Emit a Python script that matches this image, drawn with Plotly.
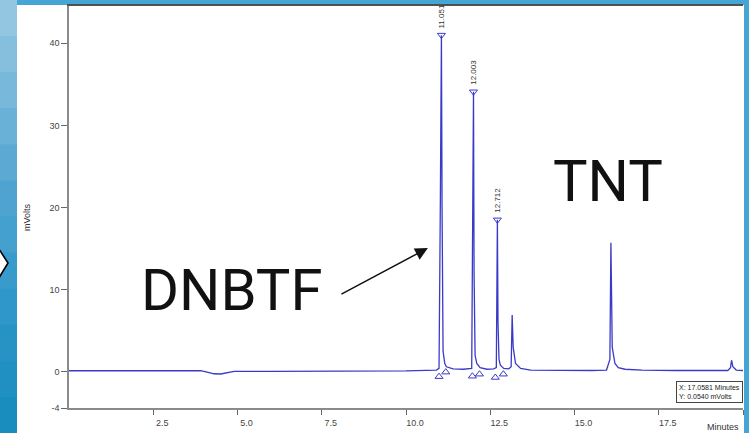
import plotly.graph_objects as go

# ---- data ----
time_min = [0.0, 1.0, 2.0, 3.0, 3.9, 4.1, 4.3, 4.5, 4.7, 4.9, 6.0, 8.0, 10.0,
            10.9, 10.98, 11.02, 11.051, 11.07, 11.10, 11.15, 11.2, 11.4, 11.7,
            11.95, 11.98, 12.003, 12.02, 12.05, 12.1, 12.2, 12.4, 12.6,
            12.68, 12.70, 12.712, 12.73, 12.76, 12.8, 12.9, 13.05,
            13.12, 13.15, 13.18, 13.25, 13.4, 13.7, 14.5, 15.5,
            15.95, 16.05, 16.08, 16.12, 16.2, 16.3, 16.5, 17.0, 18.0, 19.0,
            19.55, 19.63, 19.66, 19.7, 19.8, 20.0]
signal_mv = [0.12, 0.12, 0.12, 0.12, 0.12, -0.05, -0.25, -0.28, -0.15, 0.05, 0.05, 0.05, 0.1,
             0.2, 0.4, 21.0, 41.0, 20.0, 2.5, 1.0, 0.6, 0.35, 0.3,
             0.4, 19.5, 34.1, 12.0, 2.0, 1.0, 0.5, 0.3, 0.35,
             0.5, 10.0, 18.5, 6.0, 1.5, 0.8, 0.4, 0.35,
             0.6, 6.9, 3.0, 1.0, 0.4, 0.2, 0.15, 0.15,
             0.2, 1.5, 15.7, 3.0, 1.0, 0.5, 0.3, 0.2, 0.15, 0.15,
             0.15, 0.5, 1.4, 0.6, 0.2, 0.15]

peak_rt = [11.051, 12.003, 12.712]
peak_height = [41.0, 34.1, 18.5]
peak_labels = ["11.051", "12.003", "12.712"]
peak_start = [10.98, 11.97, 12.65]
peak_start_y = [-0.6, -0.55, -0.7]
peak_end = [11.18, 12.18, 12.89]
peak_end_y = [-0.05, -0.3, -0.3]

x_tick_vals = [2.5, 5.0, 7.5, 10.0, 12.5, 15.0, 17.5, 20.0]
x_tick_text = ["2.5", "5.0", "7.5", "10.0", "12.5", "15.0", "17.5", ""]
y_min, y_max = -4.42, 44.67
y_tick_vals = [y_min, 0, 10, 20, 30, 40]
y_tick_text = ["-4", "0", "10", "20", "30", "40"]

trace_color = "#3a3ac8"
small_font = "Liberation Sans Narrow, Liberation Sans, Arial, sans-serif"

fig = go.Figure()
fig.add_trace(go.Scatter(x=time_min, y=signal_mv, mode="lines",
                         line=dict(color=trace_color, width=1.3),
                         hoverinfo="skip", showlegend=False))
fig.add_trace(go.Scatter(x=peak_rt, y=peak_height, mode="markers",
                         marker=dict(symbol="triangle-down-open", size=7,
                                     color=trace_color, line=dict(width=1)),
                         showlegend=False, cliponaxis=False, hoverinfo="skip"))
fig.add_trace(go.Scatter(x=peak_start + peak_end, y=peak_start_y + peak_end_y,
                         mode="markers",
                         marker=dict(symbol="triangle-up-open", size=7,
                                     color=trace_color, line=dict(width=1)),
                         showlegend=False, hoverinfo="skip"))

L, R, T, B = 69, 6, 5, 25
W, H = 749, 433
pw, ph = W - L - R, H - T - B


def px(xp):
    return (xp - L) / pw


def py(yp):
    return (H - B - yp) / ph


shapes = []
# white panel
shapes.append(dict(type="rect", xref="paper", yref="paper",
                   x0=px(17), x1=px(744), y0=py(434), y1=py(5),
                   fillcolor="white", line=dict(width=0), layer="below"))
# left gradient strip
grad = ["#93c6e0", "#86bfdd", "#78b8da", "#6ab1d7", "#5caad3", "#4fa3d0",
        "#43a0cf", "#389bcc", "#2f97c9", "#2793c5", "#2090c2", "#1a8dbf"]
n = len(grad)
for i, c in enumerate(grad):
    shapes.append(dict(type="rect", xref="paper", yref="paper",
                       x0=px(0), x1=px(17),
                       y0=py(433 * (i + 1) / n + 1), y1=py(433 * i / n),
                       fillcolor=c, line=dict(width=0), layer="below"))
# chevron at left edge
shapes.append(dict(type="path", xref="paper", yref="paper",
                   path=f"M {px(-3)},{py(246)} L {px(8)},{py(263)} L {px(-3)},{py(281)} Z",
                   fillcolor="white", line=dict(color="black", width=1.6)))
# top border line
shapes.append(dict(type="line", xref="paper", yref="paper",
                   x0=px(67), x1=px(743), y0=1, y1=1,
                   line=dict(color="#505050", width=2)))

annotations = []
for rt, h, lab in zip(peak_rt, peak_height, peak_labels):
    annotations.append(dict(x=rt, y=h, text=lab, showarrow=False, textangle=-90,
                            xanchor="center", yanchor="bottom", yshift=5,
                            font=dict(family=small_font, size=8, color="#333")))
annotations += [
    dict(x=4.81, y=9.95, text="DNBTF", showarrow=False,
         font=dict(family="Roboto", size=58, color="#111")),
    dict(x=16.0, y=23.2, text="TNT", showarrow=False,
         font=dict(family="Roboto", size=58, color="#111")),
    dict(x=10.65, y=15.07, ax=-88, ay=47, text="", showarrow=True,
         arrowhead=2, arrowsize=1.7, arrowwidth=1.5, arrowcolor="#111"),
    dict(x=20.0, y=-3.75, xanchor="right", yanchor="bottom",
         text="X: 17.0581 Minutes<br>Y: 0.0540 mVolts", align="left",
         showarrow=False, bgcolor="white", bordercolor="#444", borderwidth=1,
         borderpad=2, font=dict(family=small_font, size=7, color="#222")),
    dict(xref="paper", yref="paper", x=px(27), y=py(217), text="mVolts",
         textangle=-90, showarrow=False, xanchor="center", yanchor="middle",
         font=dict(family=small_font, size=9, color="#333")),
    dict(xref="paper", yref="paper", x=px(723), y=py(427), text="Minutes",
         showarrow=False, xanchor="center", yanchor="middle",
         font=dict(family=small_font, size=9, color="#333")),
]

fig.update_layout(
    width=W, height=H,
    margin=dict(l=L, r=R, t=T, b=B),
    paper_bgcolor="#45a6d6",
    plot_bgcolor="rgba(0,0,0,0)",
    shapes=shapes,
    annotations=annotations,
    showlegend=False,
    hovermode=False,
)
fig.update_xaxes(range=[0, 20], showgrid=False, zeroline=False,
                 showline=True, linecolor="#8a8a8a", linewidth=1.5,
                 ticks="outside", ticklen=5, tickcolor="#666",
                 tickvals=x_tick_vals, ticktext=x_tick_text,
                 ticklabelshift=9,
                 tickfont=dict(family=small_font, size=9, color="#444"))
fig.update_yaxes(range=[y_min, y_max], showgrid=False, zeroline=False,
                 showline=True, linecolor="#8a8a8a", linewidth=1.5,
                 ticks="outside", ticklen=6, tickcolor="#666",
                 tickvals=y_tick_vals, ticktext=y_tick_text,
                 tickfont=dict(family=small_font, size=9, color="#444"))

fig.write_html("out.html",
               config={"displayModeBar": False},
               post_script="document.body.style.margin='0';document.body.style.overflow='hidden';")
